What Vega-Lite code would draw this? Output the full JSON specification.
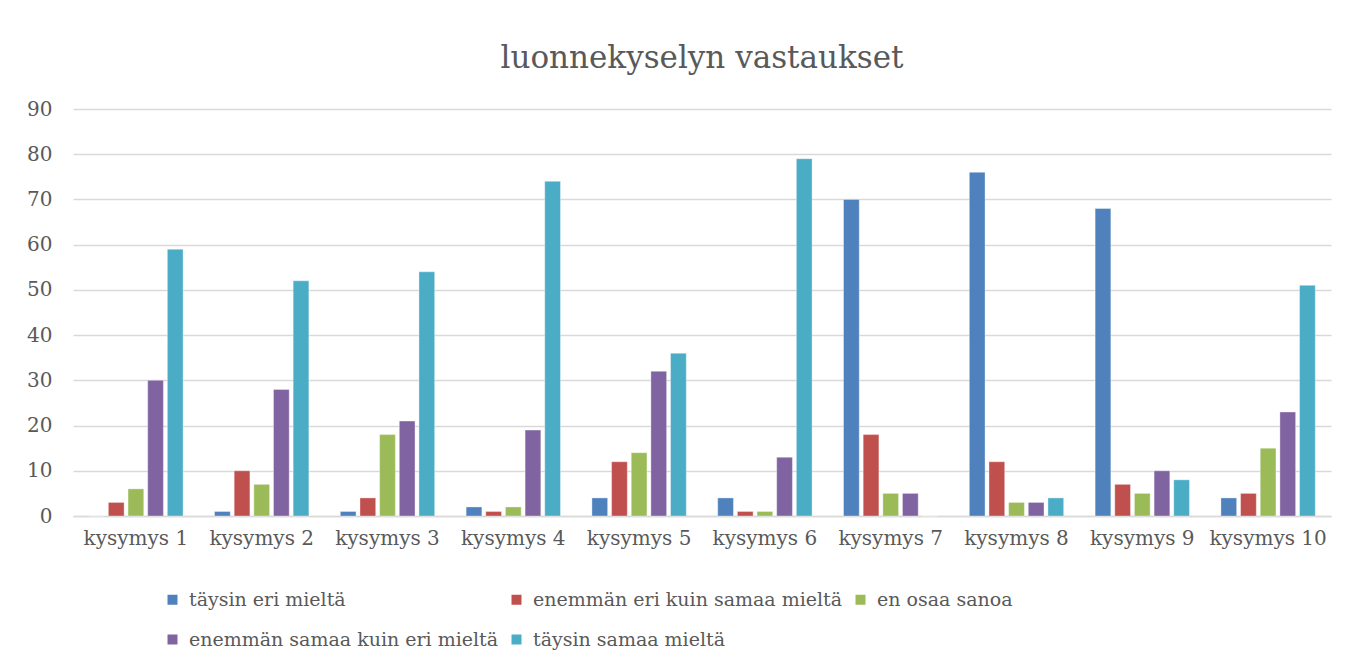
{
  "$schema": "https://vega.github.io/schema/vega-lite/v6.json",
  "width": 1258,
  "height": 407,
  "autosize": {"type": "none"},
  "padding": {"left": 73, "top": 109, "right": 31, "bottom": 152},
  "background": "white",
  "title": {
    "text": "luonnekyselyn vastaukset",
    "font": "DejaVu Serif",
    "fontSize": 31,
    "fontWeight": "normal",
    "color": "#595959",
    "anchor": "middle",
    "baseline": "alphabetic",
    "offset": 0
  },
  "data": {
    "values": [
      {"kysymys": "kysymys 1", "vastaus": "täysin eri mieltä", "n": 0},
      {"kysymys": "kysymys 1", "vastaus": "enemmän eri kuin samaa mieltä", "n": 3},
      {"kysymys": "kysymys 1", "vastaus": "en osaa sanoa", "n": 6},
      {"kysymys": "kysymys 1", "vastaus": "enemmän samaa kuin eri mieltä", "n": 30},
      {"kysymys": "kysymys 1", "vastaus": "täysin samaa mieltä", "n": 59},
      {"kysymys": "kysymys 2", "vastaus": "täysin eri mieltä", "n": 1},
      {"kysymys": "kysymys 2", "vastaus": "enemmän eri kuin samaa mieltä", "n": 10},
      {"kysymys": "kysymys 2", "vastaus": "en osaa sanoa", "n": 7},
      {"kysymys": "kysymys 2", "vastaus": "enemmän samaa kuin eri mieltä", "n": 28},
      {"kysymys": "kysymys 2", "vastaus": "täysin samaa mieltä", "n": 52},
      {"kysymys": "kysymys 3", "vastaus": "täysin eri mieltä", "n": 1},
      {"kysymys": "kysymys 3", "vastaus": "enemmän eri kuin samaa mieltä", "n": 4},
      {"kysymys": "kysymys 3", "vastaus": "en osaa sanoa", "n": 18},
      {"kysymys": "kysymys 3", "vastaus": "enemmän samaa kuin eri mieltä", "n": 21},
      {"kysymys": "kysymys 3", "vastaus": "täysin samaa mieltä", "n": 54},
      {"kysymys": "kysymys 4", "vastaus": "täysin eri mieltä", "n": 2},
      {"kysymys": "kysymys 4", "vastaus": "enemmän eri kuin samaa mieltä", "n": 1},
      {"kysymys": "kysymys 4", "vastaus": "en osaa sanoa", "n": 2},
      {"kysymys": "kysymys 4", "vastaus": "enemmän samaa kuin eri mieltä", "n": 19},
      {"kysymys": "kysymys 4", "vastaus": "täysin samaa mieltä", "n": 74},
      {"kysymys": "kysymys 5", "vastaus": "täysin eri mieltä", "n": 4},
      {"kysymys": "kysymys 5", "vastaus": "enemmän eri kuin samaa mieltä", "n": 12},
      {"kysymys": "kysymys 5", "vastaus": "en osaa sanoa", "n": 14},
      {"kysymys": "kysymys 5", "vastaus": "enemmän samaa kuin eri mieltä", "n": 32},
      {"kysymys": "kysymys 5", "vastaus": "täysin samaa mieltä", "n": 36},
      {"kysymys": "kysymys 6", "vastaus": "täysin eri mieltä", "n": 4},
      {"kysymys": "kysymys 6", "vastaus": "enemmän eri kuin samaa mieltä", "n": 1},
      {"kysymys": "kysymys 6", "vastaus": "en osaa sanoa", "n": 1},
      {"kysymys": "kysymys 6", "vastaus": "enemmän samaa kuin eri mieltä", "n": 13},
      {"kysymys": "kysymys 6", "vastaus": "täysin samaa mieltä", "n": 79},
      {"kysymys": "kysymys 7", "vastaus": "täysin eri mieltä", "n": 70},
      {"kysymys": "kysymys 7", "vastaus": "enemmän eri kuin samaa mieltä", "n": 18},
      {"kysymys": "kysymys 7", "vastaus": "en osaa sanoa", "n": 5},
      {"kysymys": "kysymys 7", "vastaus": "enemmän samaa kuin eri mieltä", "n": 5},
      {"kysymys": "kysymys 7", "vastaus": "täysin samaa mieltä", "n": 0},
      {"kysymys": "kysymys 8", "vastaus": "täysin eri mieltä", "n": 76},
      {"kysymys": "kysymys 8", "vastaus": "enemmän eri kuin samaa mieltä", "n": 12},
      {"kysymys": "kysymys 8", "vastaus": "en osaa sanoa", "n": 3},
      {"kysymys": "kysymys 8", "vastaus": "enemmän samaa kuin eri mieltä", "n": 3},
      {"kysymys": "kysymys 8", "vastaus": "täysin samaa mieltä", "n": 4},
      {"kysymys": "kysymys 9", "vastaus": "täysin eri mieltä", "n": 68},
      {"kysymys": "kysymys 9", "vastaus": "enemmän eri kuin samaa mieltä", "n": 7},
      {"kysymys": "kysymys 9", "vastaus": "en osaa sanoa", "n": 5},
      {"kysymys": "kysymys 9", "vastaus": "enemmän samaa kuin eri mieltä", "n": 10},
      {"kysymys": "kysymys 9", "vastaus": "täysin samaa mieltä", "n": 8},
      {"kysymys": "kysymys 10", "vastaus": "täysin eri mieltä", "n": 4},
      {"kysymys": "kysymys 10", "vastaus": "enemmän eri kuin samaa mieltä", "n": 5},
      {"kysymys": "kysymys 10", "vastaus": "en osaa sanoa", "n": 15},
      {"kysymys": "kysymys 10", "vastaus": "enemmän samaa kuin eri mieltä", "n": 23},
      {"kysymys": "kysymys 10", "vastaus": "täysin samaa mieltä", "n": 51}
    ]
  },
  "mark": {"type": "bar", "stroke": "white", "strokeWidth": 0.6, "strokeOpacity": 0.6},
  "encoding": {
    "x": {
      "field": "kysymys",
      "type": "nominal",
      "sort": null,
      "scale": {"paddingInner": 0.25, "paddingOuter": 0.125},
      "axis": {
        "title": null,
        "labelAngle": 0,
        "labelFont": "DejaVu Serif",
        "labelFontSize": 20,
        "labelColor": "#595959",
        "labelPadding": 12,
        "ticks": false,
        "domainColor": "#d9d9d9",
        "domainWidth": 1.5,
        "grid": false
      }
    },
    "xOffset": {
      "field": "vastaus",
      "type": "nominal",
      "sort": ["täysin eri mieltä", "enemmän eri kuin samaa mieltä", "en osaa sanoa", "enemmän samaa kuin eri mieltä", "täysin samaa mieltä"],
      "scale": {"paddingInner": 0.2, "paddingOuter": 0}
    },
    "y": {
      "field": "n",
      "type": "quantitative",
      "scale": {"domain": [0, 90], "nice": false},
      "axis": {
        "title": null,
        "values": [0, 10, 20, 30, 40, 50, 60, 70, 80, 90],
        "labelFont": "DejaVu Serif",
        "labelFontSize": 20,
        "labelColor": "#595959",
        "labelPadding": 21,
        "ticks": false,
        "domain": false,
        "gridColor": "#d9d9d9",
        "gridWidth": 1.3
      }
    },
    "color": {
      "field": "vastaus",
      "type": "nominal",
      "sort": ["täysin eri mieltä", "enemmän eri kuin samaa mieltä", "en osaa sanoa", "enemmän samaa kuin eri mieltä", "täysin samaa mieltä"],
      "scale": {
        "domain": ["täysin eri mieltä", "enemmän eri kuin samaa mieltä", "en osaa sanoa", "enemmän samaa kuin eri mieltä", "täysin samaa mieltä"],
        "range": ["#4F81BD", "#C0504D", "#9BBB59", "#8064A2", "#4BACC6"]
      },
      "legend": {
        "title": null,
        "orient": "none",
        "legendX": 90,
        "legendY": 481,
        "direction": "horizontal",
        "columns": 3,
        "columnPadding": 8,
        "rowPadding": 20,
        "symbolType": "square",
        "symbolSize": 100,
        "symbolStrokeWidth": 0,
        "symbolOffset": 0,
        "labelOffset": 7,
        "labelFont": "DejaVu Serif",
        "labelFontSize": 19,
        "labelColor": "#595959",
        "labelLimit": 400
      }
    }
  },
  "config": {
    "view": {"stroke": null}
  }
}
